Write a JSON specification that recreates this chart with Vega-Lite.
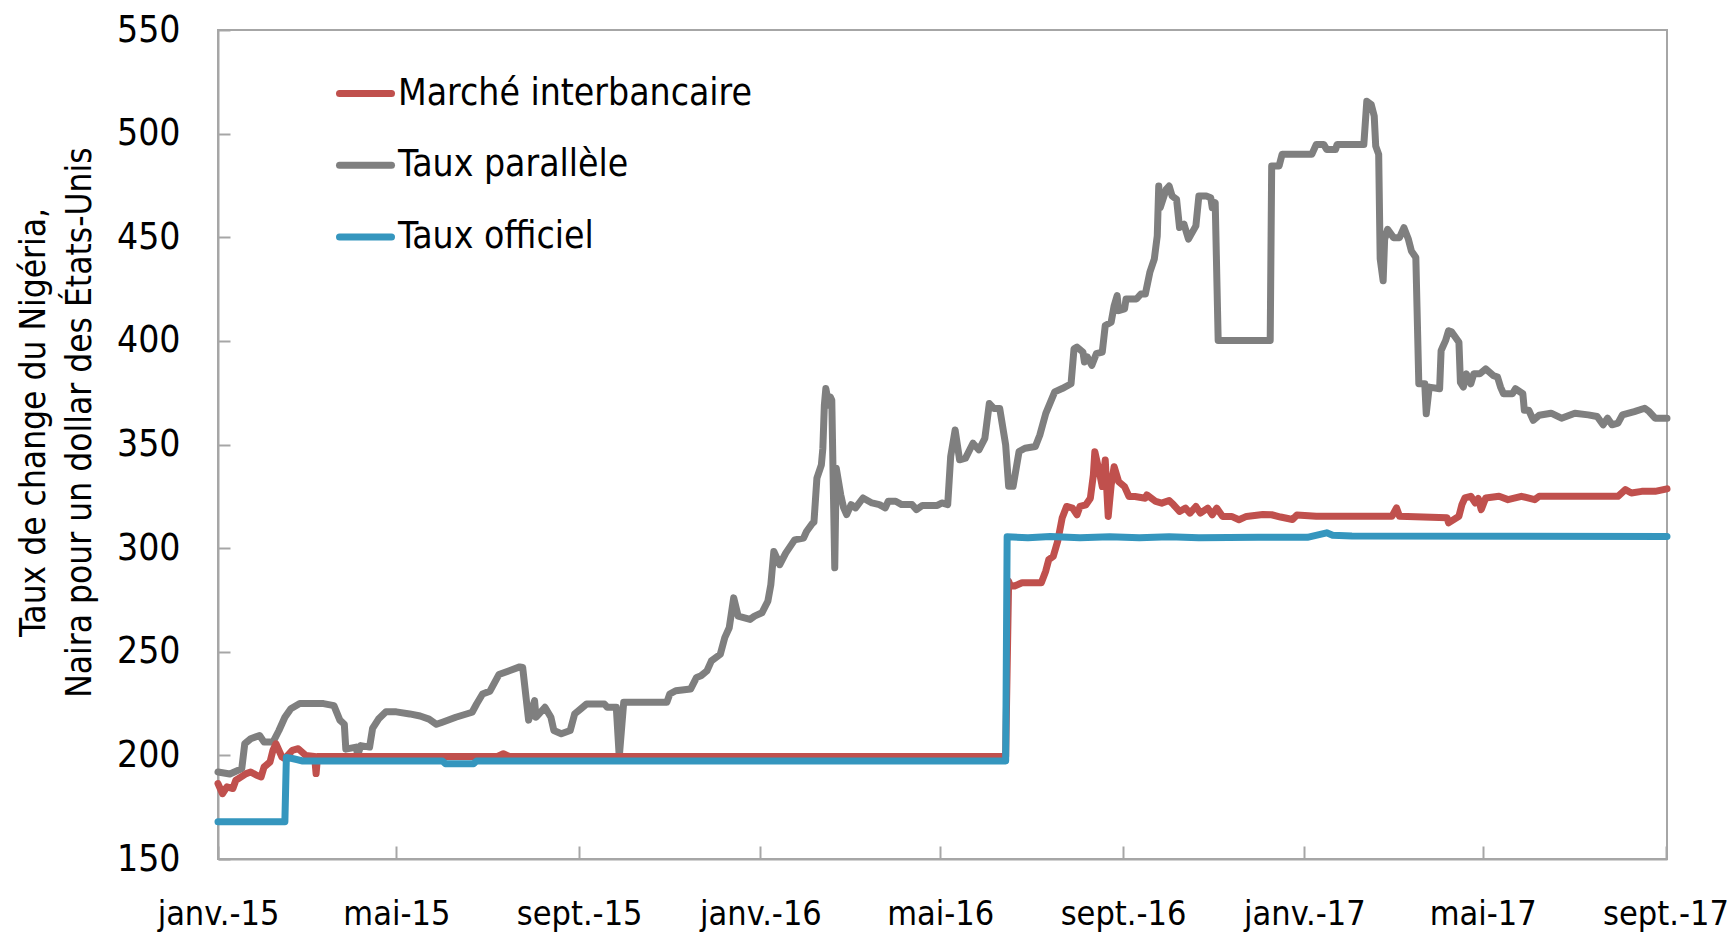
{
  "$schema": "https://vega.github.io/schema/vega-lite/v6.json",
  "width": 1449,
  "height": 829,
  "autosize": {"type": "none"},
  "padding": {"left": 218, "top": 30, "right": 64, "bottom": 78},
  "background": "white",
  "config": {
    "font": "DejaVu Sans Condensed",
    "view": {"stroke": "#A6A6A6", "strokeWidth": 2},
    "axis": {
      "grid": false,
      "domainColor": "#A6A6A6",
      "domainWidth": 2,
      "tickColor": "#A6A6A6",
      "tickWidth": 2,
      "labelFont": "DejaVu Sans Condensed",
      "labelFontSize": 37,
      "labelColor": "#000000",
      "titleFont": "DejaVu Sans Condensed",
      "titleColor": "#000000",
      "titleFontWeight": "normal"
    },
    "legend": {
      "labelFont": "DejaVu Sans Condensed",
      "labelFontSize": 37,
      "labelColor": "#000000",
      "labelLimit": 0
    }
  },
  "data": {
    "values": [
      {"series": "Taux parallèle", "date": "2015-01-01", "value": 192},
      {"series": "Taux parallèle", "date": "2015-01-09", "value": 191},
      {"series": "Taux parallèle", "date": "2015-01-17", "value": 193.6},
      {"series": "Taux parallèle", "date": "2015-01-19", "value": 205.6},
      {"series": "Taux parallèle", "date": "2015-01-23", "value": 208},
      {"series": "Taux parallèle", "date": "2015-01-29", "value": 209.6},
      {"series": "Taux parallèle", "date": "2015-02-01", "value": 206.4},
      {"series": "Taux parallèle", "date": "2015-02-07", "value": 206.4},
      {"series": "Taux parallèle", "date": "2015-02-11", "value": 212},
      {"series": "Taux parallèle", "date": "2015-02-15", "value": 218.4},
      {"series": "Taux parallèle", "date": "2015-02-19", "value": 222.5},
      {"series": "Taux parallèle", "date": "2015-02-25", "value": 225},
      {"series": "Taux parallèle", "date": "2015-03-13", "value": 225},
      {"series": "Taux parallèle", "date": "2015-03-20", "value": 224},
      {"series": "Taux parallèle", "date": "2015-03-24", "value": 217},
      {"series": "Taux parallèle", "date": "2015-03-27", "value": 215},
      {"series": "Taux parallèle", "date": "2015-03-28", "value": 203},
      {"series": "Taux parallèle", "date": "2015-04-04", "value": 204},
      {"series": "Taux parallèle", "date": "2015-04-05", "value": 200},
      {"series": "Taux parallèle", "date": "2015-04-07", "value": 204.7},
      {"series": "Taux parallèle", "date": "2015-04-13", "value": 204},
      {"series": "Taux parallèle", "date": "2015-04-15", "value": 213},
      {"series": "Taux parallèle", "date": "2015-04-19", "value": 217.5},
      {"series": "Taux parallèle", "date": "2015-04-24", "value": 221},
      {"series": "Taux parallèle", "date": "2015-05-01", "value": 221},
      {"series": "Taux parallèle", "date": "2015-05-10", "value": 220},
      {"series": "Taux parallèle", "date": "2015-05-17", "value": 219},
      {"series": "Taux parallèle", "date": "2015-05-23", "value": 217.5},
      {"series": "Taux parallèle", "date": "2015-05-28", "value": 215},
      {"series": "Taux parallèle", "date": "2015-06-01", "value": 216},
      {"series": "Taux parallèle", "date": "2015-06-10", "value": 218.4},
      {"series": "Taux parallèle", "date": "2015-06-21", "value": 220.8},
      {"series": "Taux parallèle", "date": "2015-06-24", "value": 224.8},
      {"series": "Taux parallèle", "date": "2015-06-28", "value": 229.6},
      {"series": "Taux parallèle", "date": "2015-07-03", "value": 231},
      {"series": "Taux parallèle", "date": "2015-07-06", "value": 235},
      {"series": "Taux parallèle", "date": "2015-07-09", "value": 239},
      {"series": "Taux parallèle", "date": "2015-07-16", "value": 240.8},
      {"series": "Taux parallèle", "date": "2015-07-23", "value": 242.7},
      {"series": "Taux parallèle", "date": "2015-07-25", "value": 242.4},
      {"series": "Taux parallèle", "date": "2015-07-29", "value": 217},
      {"series": "Taux parallèle", "date": "2015-08-02", "value": 226.4},
      {"series": "Taux parallèle", "date": "2015-08-03", "value": 218.4},
      {"series": "Taux parallèle", "date": "2015-08-09", "value": 223.2},
      {"series": "Taux parallèle", "date": "2015-08-13", "value": 218.4},
      {"series": "Taux parallèle", "date": "2015-08-15", "value": 212},
      {"series": "Taux parallèle", "date": "2015-08-20", "value": 210.4},
      {"series": "Taux parallèle", "date": "2015-08-26", "value": 212},
      {"series": "Taux parallèle", "date": "2015-08-29", "value": 220},
      {"series": "Taux parallèle", "date": "2015-09-02", "value": 222.4},
      {"series": "Taux parallèle", "date": "2015-09-06", "value": 224.8},
      {"series": "Taux parallèle", "date": "2015-09-18", "value": 224.8},
      {"series": "Taux parallèle", "date": "2015-09-20", "value": 223.2},
      {"series": "Taux parallèle", "date": "2015-09-26", "value": 223.2},
      {"series": "Taux parallèle", "date": "2015-09-28", "value": 199.2},
      {"series": "Taux parallèle", "date": "2015-10-01", "value": 225.6},
      {"series": "Taux parallèle", "date": "2015-10-30", "value": 225.6},
      {"series": "Taux parallèle", "date": "2015-11-01", "value": 229.6},
      {"series": "Taux parallèle", "date": "2015-11-05", "value": 231.2},
      {"series": "Taux parallèle", "date": "2015-11-15", "value": 232},
      {"series": "Taux parallèle", "date": "2015-11-19", "value": 237.6},
      {"series": "Taux parallèle", "date": "2015-11-22", "value": 238.4},
      {"series": "Taux parallèle", "date": "2015-11-26", "value": 240.8},
      {"series": "Taux parallèle", "date": "2015-11-29", "value": 245.6},
      {"series": "Taux parallèle", "date": "2015-12-05", "value": 248.8},
      {"series": "Taux parallèle", "date": "2015-12-08", "value": 256.8},
      {"series": "Taux parallèle", "date": "2015-12-11", "value": 261.6},
      {"series": "Taux parallèle", "date": "2015-12-14", "value": 276},
      {"series": "Taux parallèle", "date": "2015-12-17", "value": 267.2},
      {"series": "Taux parallèle", "date": "2015-12-25", "value": 265.6},
      {"series": "Taux parallèle", "date": "2015-12-28", "value": 267.2},
      {"series": "Taux parallèle", "date": "2016-01-02", "value": 268.8},
      {"series": "Taux parallèle", "date": "2016-01-06", "value": 274.4},
      {"series": "Taux parallèle", "date": "2016-01-08", "value": 282.4},
      {"series": "Taux parallèle", "date": "2016-01-10", "value": 298.4},
      {"series": "Taux parallèle", "date": "2016-01-14", "value": 292},
      {"series": "Taux parallèle", "date": "2016-01-18", "value": 297.6},
      {"series": "Taux parallèle", "date": "2016-01-24", "value": 304},
      {"series": "Taux parallèle", "date": "2016-01-30", "value": 304.8},
      {"series": "Taux parallèle", "date": "2016-02-01", "value": 308},
      {"series": "Taux parallèle", "date": "2016-02-05", "value": 312},
      {"series": "Taux parallèle", "date": "2016-02-06", "value": 312.5},
      {"series": "Taux parallèle", "date": "2016-02-08", "value": 333.8},
      {"series": "Taux parallèle", "date": "2016-02-11", "value": 340.2},
      {"series": "Taux parallèle", "date": "2016-02-12", "value": 348.2},
      {"series": "Taux parallèle", "date": "2016-02-13", "value": 369},
      {"series": "Taux parallèle", "date": "2016-02-14", "value": 377},
      {"series": "Taux parallèle", "date": "2016-02-16", "value": 369},
      {"series": "Taux parallèle", "date": "2016-02-17", "value": 373},
      {"series": "Taux parallèle", "date": "2016-02-18", "value": 371.4},
      {"series": "Taux parallèle", "date": "2016-02-20", "value": 290.5},
      {"series": "Taux parallèle", "date": "2016-02-21", "value": 338.6},
      {"series": "Taux parallèle", "date": "2016-02-24", "value": 325.8},
      {"series": "Taux parallèle", "date": "2016-02-26", "value": 319.4},
      {"series": "Taux parallèle", "date": "2016-02-28", "value": 316.2},
      {"series": "Taux parallèle", "date": "2016-03-02", "value": 321},
      {"series": "Taux parallèle", "date": "2016-03-05", "value": 319.4},
      {"series": "Taux parallèle", "date": "2016-03-10", "value": 324.2},
      {"series": "Taux parallèle", "date": "2016-03-16", "value": 321.8},
      {"series": "Taux parallèle", "date": "2016-03-21", "value": 321},
      {"series": "Taux parallèle", "date": "2016-03-25", "value": 319.4},
      {"series": "Taux parallèle", "date": "2016-03-27", "value": 322.6},
      {"series": "Taux parallèle", "date": "2016-04-01", "value": 322.6},
      {"series": "Taux parallèle", "date": "2016-04-05", "value": 321},
      {"series": "Taux parallèle", "date": "2016-04-12", "value": 321},
      {"series": "Taux parallèle", "date": "2016-04-15", "value": 318.6},
      {"series": "Taux parallèle", "date": "2016-04-19", "value": 320.6},
      {"series": "Taux parallèle", "date": "2016-04-29", "value": 320.6},
      {"series": "Taux parallèle", "date": "2016-05-02", "value": 321.8},
      {"series": "Taux parallèle", "date": "2016-05-06", "value": 321},
      {"series": "Taux parallèle", "date": "2016-05-08", "value": 344.2},
      {"series": "Taux parallèle", "date": "2016-05-11", "value": 357},
      {"series": "Taux parallèle", "date": "2016-05-14", "value": 342.6},
      {"series": "Taux parallèle", "date": "2016-05-18", "value": 343.4},
      {"series": "Taux parallèle", "date": "2016-05-23", "value": 350.6},
      {"series": "Taux parallèle", "date": "2016-05-27", "value": 347.4},
      {"series": "Taux parallèle", "date": "2016-05-31", "value": 353},
      {"series": "Taux parallèle", "date": "2016-06-03", "value": 369.8},
      {"series": "Taux parallèle", "date": "2016-06-06", "value": 367.4},
      {"series": "Taux parallèle", "date": "2016-06-10", "value": 367.4},
      {"series": "Taux parallèle", "date": "2016-06-14", "value": 349.8},
      {"series": "Taux parallèle", "date": "2016-06-16", "value": 329.8},
      {"series": "Taux parallèle", "date": "2016-06-19", "value": 329.8},
      {"series": "Taux parallèle", "date": "2016-06-23", "value": 346.6},
      {"series": "Taux parallèle", "date": "2016-06-27", "value": 348.2},
      {"series": "Taux parallèle", "date": "2016-07-04", "value": 349},
      {"series": "Taux parallèle", "date": "2016-07-07", "value": 354.6},
      {"series": "Taux parallèle", "date": "2016-07-11", "value": 365},
      {"series": "Taux parallèle", "date": "2016-07-17", "value": 375.4},
      {"series": "Taux parallèle", "date": "2016-07-22", "value": 377},
      {"series": "Taux parallèle", "date": "2016-07-28", "value": 379.3},
      {"series": "Taux parallèle", "date": "2016-07-30", "value": 396.2},
      {"series": "Taux parallèle", "date": "2016-08-01", "value": 397},
      {"series": "Taux parallèle", "date": "2016-08-05", "value": 394.6},
      {"series": "Taux parallèle", "date": "2016-08-06", "value": 389.8},
      {"series": "Taux parallèle", "date": "2016-08-08", "value": 392.2},
      {"series": "Taux parallèle", "date": "2016-08-11", "value": 388.2},
      {"series": "Taux parallèle", "date": "2016-08-14", "value": 393.8},
      {"series": "Taux parallèle", "date": "2016-08-18", "value": 394.6},
      {"series": "Taux parallèle", "date": "2016-08-20", "value": 407.4},
      {"series": "Taux parallèle", "date": "2016-08-24", "value": 409},
      {"series": "Taux parallèle", "date": "2016-08-26", "value": 417},
      {"series": "Taux parallèle", "date": "2016-08-28", "value": 421.8},
      {"series": "Taux parallèle", "date": "2016-08-29", "value": 414.6},
      {"series": "Taux parallèle", "date": "2016-09-02", "value": 415.4},
      {"series": "Taux parallèle", "date": "2016-09-03", "value": 420.2},
      {"series": "Taux parallèle", "date": "2016-09-10", "value": 420.2},
      {"series": "Taux parallèle", "date": "2016-09-13", "value": 422.6},
      {"series": "Taux parallèle", "date": "2016-09-16", "value": 422.6},
      {"series": "Taux parallèle", "date": "2016-09-19", "value": 433},
      {"series": "Taux parallèle", "date": "2016-09-22", "value": 439.4},
      {"series": "Taux parallèle", "date": "2016-09-24", "value": 450.6},
      {"series": "Taux parallèle", "date": "2016-09-25", "value": 474.7},
      {"series": "Taux parallèle", "date": "2016-09-26", "value": 464.3},
      {"series": "Taux parallèle", "date": "2016-09-30", "value": 473.1},
      {"series": "Taux parallèle", "date": "2016-10-02", "value": 474.7},
      {"series": "Taux parallèle", "date": "2016-10-04", "value": 469.9},
      {"series": "Taux parallèle", "date": "2016-10-07", "value": 468.3},
      {"series": "Taux parallèle", "date": "2016-10-09", "value": 454.7},
      {"series": "Taux parallèle", "date": "2016-10-12", "value": 456.3},
      {"series": "Taux parallèle", "date": "2016-10-15", "value": 449.1},
      {"series": "Taux parallèle", "date": "2016-10-20", "value": 455.5},
      {"series": "Taux parallèle", "date": "2016-10-22", "value": 469.9},
      {"series": "Taux parallèle", "date": "2016-10-27", "value": 469.9},
      {"series": "Taux parallèle", "date": "2016-10-30", "value": 469.1},
      {"series": "Taux parallèle", "date": "2016-10-31", "value": 464.3},
      {"series": "Taux parallèle", "date": "2016-11-02", "value": 466.7},
      {"series": "Taux parallèle", "date": "2016-11-04", "value": 400.2},
      {"series": "Taux parallèle", "date": "2016-12-09", "value": 400.2},
      {"series": "Taux parallèle", "date": "2016-12-10", "value": 484.4},
      {"series": "Taux parallèle", "date": "2016-12-15", "value": 484.4},
      {"series": "Taux parallèle", "date": "2016-12-17", "value": 490},
      {"series": "Taux parallèle", "date": "2017-01-06", "value": 490},
      {"series": "Taux parallèle", "date": "2017-01-09", "value": 494.8},
      {"series": "Taux parallèle", "date": "2017-01-14", "value": 494.8},
      {"series": "Taux parallèle", "date": "2017-01-16", "value": 492.4},
      {"series": "Taux parallèle", "date": "2017-01-22", "value": 492.4},
      {"series": "Taux parallèle", "date": "2017-01-23", "value": 494.8},
      {"series": "Taux parallèle", "date": "2017-02-10", "value": 494.8},
      {"series": "Taux parallèle", "date": "2017-02-12", "value": 515.6},
      {"series": "Taux parallèle", "date": "2017-02-15", "value": 514},
      {"series": "Taux parallèle", "date": "2017-02-17", "value": 508.4},
      {"series": "Taux parallèle", "date": "2017-02-18", "value": 494},
      {"series": "Taux parallèle", "date": "2017-02-20", "value": 490},
      {"series": "Taux parallèle", "date": "2017-02-21", "value": 439.6},
      {"series": "Taux parallèle", "date": "2017-02-23", "value": 429},
      {"series": "Taux parallèle", "date": "2017-02-24", "value": 449},
      {"series": "Taux parallèle", "date": "2017-02-26", "value": 453.8},
      {"series": "Taux parallèle", "date": "2017-03-02", "value": 449.8},
      {"series": "Taux parallèle", "date": "2017-03-06", "value": 449.8},
      {"series": "Taux parallèle", "date": "2017-03-09", "value": 454.6},
      {"series": "Taux parallèle", "date": "2017-03-12", "value": 449},
      {"series": "Taux parallèle", "date": "2017-03-14", "value": 443.4},
      {"series": "Taux parallèle", "date": "2017-03-17", "value": 440.2},
      {"series": "Taux parallèle", "date": "2017-03-19", "value": 379.3},
      {"series": "Taux parallèle", "date": "2017-03-23", "value": 379.3},
      {"series": "Taux parallèle", "date": "2017-03-24", "value": 364.8},
      {"series": "Taux parallèle", "date": "2017-03-26", "value": 377.7},
      {"series": "Taux parallèle", "date": "2017-04-02", "value": 376.9},
      {"series": "Taux parallèle", "date": "2017-04-03", "value": 395.3},
      {"series": "Taux parallèle", "date": "2017-04-04", "value": 396.9},
      {"series": "Taux parallèle", "date": "2017-04-06", "value": 400.1},
      {"series": "Taux parallèle", "date": "2017-04-08", "value": 404.9},
      {"series": "Taux parallèle", "date": "2017-04-10", "value": 404.4},
      {"series": "Taux parallèle", "date": "2017-04-15", "value": 399.3},
      {"series": "Taux parallèle", "date": "2017-04-16", "value": 380},
      {"series": "Taux parallèle", "date": "2017-04-18", "value": 377.7},
      {"series": "Taux parallèle", "date": "2017-04-20", "value": 384.1},
      {"series": "Taux parallèle", "date": "2017-04-23", "value": 379.3},
      {"series": "Taux parallèle", "date": "2017-04-25", "value": 384.1},
      {"series": "Taux parallèle", "date": "2017-04-29", "value": 384.1},
      {"series": "Taux parallèle", "date": "2017-05-03", "value": 386.5},
      {"series": "Taux parallèle", "date": "2017-05-08", "value": 383.3},
      {"series": "Taux parallèle", "date": "2017-05-11", "value": 382.5},
      {"series": "Taux parallèle", "date": "2017-05-13", "value": 377.7},
      {"series": "Taux parallèle", "date": "2017-05-15", "value": 374.5},
      {"series": "Taux parallèle", "date": "2017-05-21", "value": 374.5},
      {"series": "Taux parallèle", "date": "2017-05-23", "value": 376.9},
      {"series": "Taux parallèle", "date": "2017-05-28", "value": 374.5},
      {"series": "Taux parallèle", "date": "2017-05-29", "value": 366.5},
      {"series": "Taux parallèle", "date": "2017-06-01", "value": 366.5},
      {"series": "Taux parallèle", "date": "2017-06-04", "value": 361.7},
      {"series": "Taux parallèle", "date": "2017-06-08", "value": 364.1},
      {"series": "Taux parallèle", "date": "2017-06-16", "value": 365.1},
      {"series": "Taux parallèle", "date": "2017-06-23", "value": 362.7},
      {"series": "Taux parallèle", "date": "2017-07-02", "value": 365.1},
      {"series": "Taux parallèle", "date": "2017-07-11", "value": 364.3},
      {"series": "Taux parallèle", "date": "2017-07-17", "value": 363.5},
      {"series": "Taux parallèle", "date": "2017-07-21", "value": 359.5},
      {"series": "Taux parallèle", "date": "2017-07-24", "value": 362.7},
      {"series": "Taux parallèle", "date": "2017-07-27", "value": 359.5},
      {"series": "Taux parallèle", "date": "2017-07-31", "value": 360.3},
      {"series": "Taux parallèle", "date": "2017-08-03", "value": 364.3},
      {"series": "Taux parallèle", "date": "2017-08-11", "value": 365.9},
      {"series": "Taux parallèle", "date": "2017-08-18", "value": 367.5},
      {"series": "Taux parallèle", "date": "2017-08-21", "value": 365.9},
      {"series": "Taux parallèle", "date": "2017-08-25", "value": 362.7},
      {"series": "Taux parallèle", "date": "2017-09-02", "value": 362.7},

      {"series": "Marché interbancaire", "date": "2015-01-01", "value": 186.4},
      {"series": "Marché interbancaire", "date": "2015-01-04", "value": 181.5},
      {"series": "Marché interbancaire", "date": "2015-01-07", "value": 184.8},
      {"series": "Marché interbancaire", "date": "2015-01-11", "value": 184},
      {"series": "Marché interbancaire", "date": "2015-01-13", "value": 188},
      {"series": "Marché interbancaire", "date": "2015-01-20", "value": 191.2},
      {"series": "Marché interbancaire", "date": "2015-01-23", "value": 192},
      {"series": "Marché interbancaire", "date": "2015-01-27", "value": 190.4},
      {"series": "Marché interbancaire", "date": "2015-01-30", "value": 189.6},
      {"series": "Marché interbancaire", "date": "2015-02-01", "value": 194.4},
      {"series": "Marché interbancaire", "date": "2015-02-05", "value": 196.8},
      {"series": "Marché interbancaire", "date": "2015-02-07", "value": 202.5},
      {"series": "Marché interbancaire", "date": "2015-02-09", "value": 205.6},
      {"series": "Marché interbancaire", "date": "2015-02-13", "value": 199.2},
      {"series": "Marché interbancaire", "date": "2015-02-15", "value": 198.4},
      {"series": "Marché interbancaire", "date": "2015-02-20", "value": 202.4},
      {"series": "Marché interbancaire", "date": "2015-02-24", "value": 203.2},
      {"series": "Marché interbancaire", "date": "2015-03-01", "value": 200},
      {"series": "Marché interbancaire", "date": "2015-03-07", "value": 199.5},
      {"series": "Marché interbancaire", "date": "2015-03-08", "value": 191.2},
      {"series": "Marché interbancaire", "date": "2015-03-09", "value": 199.5},
      {"series": "Marché interbancaire", "date": "2015-07-08", "value": 199.5},
      {"series": "Marché interbancaire", "date": "2015-07-12", "value": 200.8},
      {"series": "Marché interbancaire", "date": "2015-07-16", "value": 199.5},
      {"series": "Marché interbancaire", "date": "2016-06-14", "value": 199.5},
      {"series": "Marché interbancaire", "date": "2016-06-16", "value": 284},
      {"series": "Marché interbancaire", "date": "2016-06-17", "value": 282},
      {"series": "Marché interbancaire", "date": "2016-06-20", "value": 281.7},
      {"series": "Marché interbancaire", "date": "2016-06-25", "value": 283.3},
      {"series": "Marché interbancaire", "date": "2016-07-08", "value": 283.3},
      {"series": "Marché interbancaire", "date": "2016-07-11", "value": 289},
      {"series": "Marché interbancaire", "date": "2016-07-13", "value": 294.5},
      {"series": "Marché interbancaire", "date": "2016-07-16", "value": 296},
      {"series": "Marché interbancaire", "date": "2016-07-19", "value": 303.3},
      {"series": "Marché interbancaire", "date": "2016-07-22", "value": 314.5},
      {"series": "Marché interbancaire", "date": "2016-07-25", "value": 320.1},
      {"series": "Marché interbancaire", "date": "2016-07-29", "value": 319.3},
      {"series": "Marché interbancaire", "date": "2016-08-01", "value": 316.1},
      {"series": "Marché interbancaire", "date": "2016-08-03", "value": 320.1},
      {"series": "Marché interbancaire", "date": "2016-08-07", "value": 320.9},
      {"series": "Marché interbancaire", "date": "2016-08-10", "value": 324.1},
      {"series": "Marché interbancaire", "date": "2016-08-12", "value": 335.3},
      {"series": "Marché interbancaire", "date": "2016-08-13", "value": 346.5},
      {"series": "Marché interbancaire", "date": "2016-08-16", "value": 336.9},
      {"series": "Marché interbancaire", "date": "2016-08-18", "value": 329.7},
      {"series": "Marché interbancaire", "date": "2016-08-20", "value": 342.5},
      {"series": "Marché interbancaire", "date": "2016-08-22", "value": 315.3},
      {"series": "Marché interbancaire", "date": "2016-08-24", "value": 330.5},
      {"series": "Marché interbancaire", "date": "2016-08-26", "value": 339.3},
      {"series": "Marché interbancaire", "date": "2016-08-29", "value": 332.1},
      {"series": "Marché interbancaire", "date": "2016-09-02", "value": 329.7},
      {"series": "Marché interbancaire", "date": "2016-09-05", "value": 324.9},
      {"series": "Marché interbancaire", "date": "2016-09-09", "value": 324.9},
      {"series": "Marché interbancaire", "date": "2016-09-16", "value": 324.1},
      {"series": "Marché interbancaire", "date": "2016-09-17", "value": 325.7},
      {"series": "Marché interbancaire", "date": "2016-09-23", "value": 322.5},
      {"series": "Marché interbancaire", "date": "2016-09-27", "value": 321.7},
      {"series": "Marché interbancaire", "date": "2016-10-02", "value": 323},
      {"series": "Marché interbancaire", "date": "2016-10-05", "value": 320.9},
      {"series": "Marché interbancaire", "date": "2016-10-09", "value": 317.7},
      {"series": "Marché interbancaire", "date": "2016-10-13", "value": 319.3},
      {"series": "Marché interbancaire", "date": "2016-10-16", "value": 316.9},
      {"series": "Marché interbancaire", "date": "2016-10-20", "value": 320.1},
      {"series": "Marché interbancaire", "date": "2016-10-23", "value": 316.9},
      {"series": "Marché interbancaire", "date": "2016-10-28", "value": 319.3},
      {"series": "Marché interbancaire", "date": "2016-10-31", "value": 316.1},
      {"series": "Marché interbancaire", "date": "2016-11-03", "value": 319.3},
      {"series": "Marché interbancaire", "date": "2016-11-07", "value": 315.3},
      {"series": "Marché interbancaire", "date": "2016-11-13", "value": 315.3},
      {"series": "Marché interbancaire", "date": "2016-11-18", "value": 313.7},
      {"series": "Marché interbancaire", "date": "2016-11-23", "value": 315.3},
      {"series": "Marché interbancaire", "date": "2016-12-04", "value": 316.2},
      {"series": "Marché interbancaire", "date": "2016-12-10", "value": 316.1},
      {"series": "Marché interbancaire", "date": "2016-12-16", "value": 315},
      {"series": "Marché interbancaire", "date": "2016-12-24", "value": 313.8},
      {"series": "Marché interbancaire", "date": "2016-12-27", "value": 316},
      {"series": "Marché interbancaire", "date": "2017-01-09", "value": 315.4},
      {"series": "Marché interbancaire", "date": "2017-03-01", "value": 315.4},
      {"series": "Marché interbancaire", "date": "2017-03-04", "value": 319.4},
      {"series": "Marché interbancaire", "date": "2017-03-06", "value": 315.4},
      {"series": "Marché interbancaire", "date": "2017-04-07", "value": 314.6},
      {"series": "Marché interbancaire", "date": "2017-04-08", "value": 312.2},
      {"series": "Marché interbancaire", "date": "2017-04-15", "value": 315.4},
      {"series": "Marché interbancaire", "date": "2017-04-17", "value": 321},
      {"series": "Marché interbancaire", "date": "2017-04-19", "value": 324.2},
      {"series": "Marché interbancaire", "date": "2017-04-23", "value": 325},
      {"series": "Marché interbancaire", "date": "2017-04-26", "value": 321.8},
      {"series": "Marché interbancaire", "date": "2017-04-28", "value": 324},
      {"series": "Marché interbancaire", "date": "2017-04-30", "value": 318.6},
      {"series": "Marché interbancaire", "date": "2017-05-03", "value": 324.2},
      {"series": "Marché interbancaire", "date": "2017-05-12", "value": 325},
      {"series": "Marché interbancaire", "date": "2017-05-18", "value": 323.4},
      {"series": "Marché interbancaire", "date": "2017-05-27", "value": 325},
      {"series": "Marché interbancaire", "date": "2017-06-05", "value": 323.4},
      {"series": "Marché interbancaire", "date": "2017-06-08", "value": 325},
      {"series": "Marché interbancaire", "date": "2017-07-31", "value": 325},
      {"series": "Marché interbancaire", "date": "2017-08-05", "value": 328.2},
      {"series": "Marché interbancaire", "date": "2017-08-09", "value": 326.6},
      {"series": "Marché interbancaire", "date": "2017-08-16", "value": 327.4},
      {"series": "Marché interbancaire", "date": "2017-08-25", "value": 327.4},
      {"series": "Marché interbancaire", "date": "2017-09-02", "value": 328.6},

      {"series": "Taux officiel", "date": "2015-01-01", "value": 168},
      {"series": "Taux officiel", "date": "2015-02-15", "value": 168},
      {"series": "Taux officiel", "date": "2015-02-16", "value": 199},
      {"series": "Taux officiel", "date": "2015-02-20", "value": 198.5},
      {"series": "Taux officiel", "date": "2015-02-27", "value": 197.3},
      {"series": "Taux officiel", "date": "2015-06-01", "value": 197.3},
      {"series": "Taux officiel", "date": "2015-06-03", "value": 196},
      {"series": "Taux officiel", "date": "2015-06-22", "value": 196},
      {"series": "Taux officiel", "date": "2015-06-24", "value": 197.3},
      {"series": "Taux officiel", "date": "2016-06-14", "value": 197.3},
      {"series": "Taux officiel", "date": "2016-06-15", "value": 305.5},
      {"series": "Taux officiel", "date": "2016-06-29", "value": 305},
      {"series": "Taux officiel", "date": "2016-07-14", "value": 305.6},
      {"series": "Taux officiel", "date": "2016-08-03", "value": 305},
      {"series": "Taux officiel", "date": "2016-08-23", "value": 305.5},
      {"series": "Taux officiel", "date": "2016-09-12", "value": 305},
      {"series": "Taux officiel", "date": "2016-10-02", "value": 305.5},
      {"series": "Taux officiel", "date": "2016-10-22", "value": 305},
      {"series": "Taux officiel", "date": "2016-12-01", "value": 305.2},
      {"series": "Taux officiel", "date": "2017-01-03", "value": 305.2},
      {"series": "Taux officiel", "date": "2017-01-16", "value": 307.4},
      {"series": "Taux officiel", "date": "2017-01-20", "value": 306.2},
      {"series": "Taux officiel", "date": "2017-02-02", "value": 305.8},
      {"series": "Taux officiel", "date": "2017-09-02", "value": 305.6}
    ]
  },
  "encoding": {
    "x": {
      "field": "date",
      "type": "temporal",
      "scale": {"type": "utc", "domain": [{"year": 2015, "month": 1, "date": 1, "utc": true}, {"year": 2017, "month": 9, "date": 2, "utc": true}]},
      "axis": {
        "title": null,
        "values": [
          {"year": 2015, "month": 1, "date": 1, "utc": true},
          {"year": 2015, "month": 5, "date": 1, "utc": true},
          {"year": 2015, "month": 9, "date": 1, "utc": true},
          {"year": 2016, "month": 1, "date": 1, "utc": true},
          {"year": 2016, "month": 5, "date": 1, "utc": true},
          {"year": 2016, "month": 9, "date": 1, "utc": true},
          {"year": 2017, "month": 1, "date": 1, "utc": true},
          {"year": 2017, "month": 5, "date": 1, "utc": true},
          {"year": 2017, "month": 9, "date": 1, "utc": true}
        ],
        "labelExpr": "(utcmonth(datum.value) == 0 ? 'janv.' : utcmonth(datum.value) == 4 ? 'mai' : 'sept.') + '-' + utcFormat(datum.value, '%y')",
        "labelFlush": false,
        "labelOverlap": false,
        "labelBound": false,
        "labelFontSize": 34,
        "tickSize": -13,
        "labelPadding": 51
      }
    },
    "y": {
      "field": "value",
      "type": "quantitative",
      "scale": {"domain": [150, 550], "nice": false, "zero": false},
      "axis": {
        "values": [150, 200, 250, 300, 350, 400, 450, 500, 550],
        "tickSize": -12,
        "labelPadding": 50,
        "title": ["Taux de change du Nigéria,", "Naira pour un dollar des États-Unis"],
        "titleFontSize": 35,
        "titleLineHeight": 46,
        "titleAngle": -90,
        "titleAlign": "center",
        "titleBaseline": "middle",
        "titleX": -185,
        "titleY": 392
      }
    },
    "color": {
      "field": "series",
      "type": "nominal",
      "scale": {
        "domain": ["Marché interbancaire", "Taux parallèle", "Taux officiel"],
        "range": ["#C0504D", "#7F7F7F", "#3596BE"]
      },
      "legend": {
        "orient": "none",
        "legendX": 118,
        "legendY": 34,
        "title": null,
        "symbolType": "stroke",
        "symbolSize": 2704,
        "symbolStrokeWidth": 7,
        "labelOffset": 3,
        "rowPadding": 23.8,
        "padding": 0,
        "encode": {"symbols": {"update": {"strokeCap": {"value": "round"}}}}
      }
    }
  },
  "layer": [
    {
      "transform": [{"filter": "datum.series == 'Taux parallèle'"}],
      "mark": {"type": "line", "strokeWidth": 7, "strokeJoin": "round", "strokeCap": "round"}
    },
    {
      "transform": [{"filter": "datum.series == 'Marché interbancaire'"}],
      "mark": {"type": "line", "strokeWidth": 7, "strokeJoin": "round", "strokeCap": "round"}
    },
    {
      "transform": [{"filter": "datum.series == 'Taux officiel'"}],
      "mark": {"type": "line", "strokeWidth": 7, "strokeJoin": "round", "strokeCap": "round"}
    }
  ]
}
